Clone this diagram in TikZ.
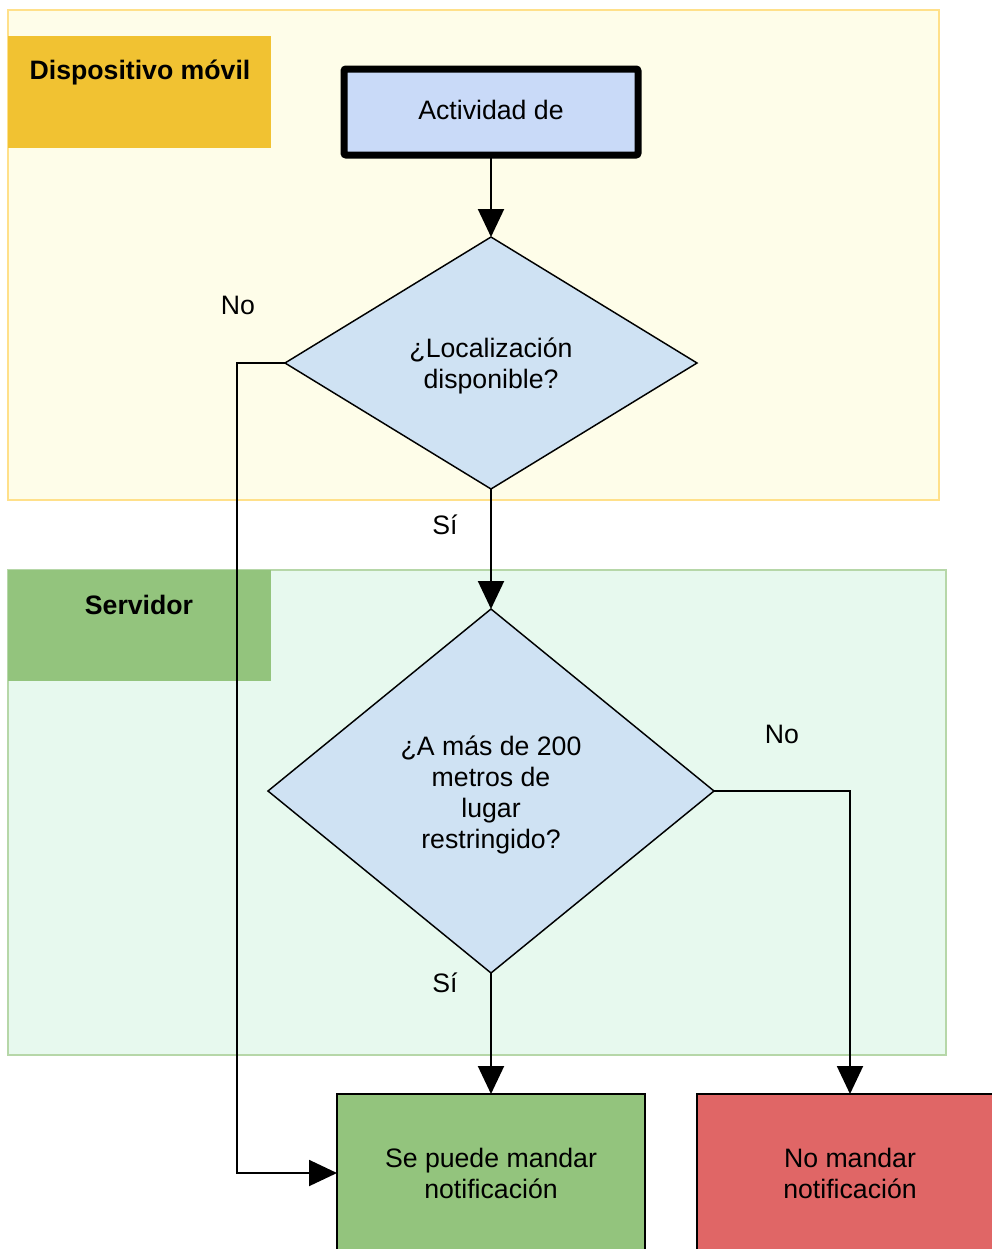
\documentclass[tikz,border=0pt]{standalone}
\usepackage{fontspec}
\setmainfont{Liberation Sans}
\usetikzlibrary{shapes.geometric,arrows.meta}
\definecolor{laneY}{HTML}{FEFDE9}
\definecolor{laneYb}{HTML}{FFE08A}
\definecolor{titleY}{HTML}{F1C232}
\definecolor{laneG}{HTML}{E7F9EE}
\definecolor{laneGb}{HTML}{B6D7A8}
\definecolor{titleG}{HTML}{93C47D}
\definecolor{dfill}{HTML}{CFE2F3}
\definecolor{tfill}{HTML}{C9DAF8}
\definecolor{rfill}{HTML}{E06666}
\tikzset{
  txt/.style={font=\fontsize{20}{23.5}\selectfont, align=center, inner sep=0pt},
  ttl/.style={font=\fontsize{20}{23.5}\selectfont\bfseries, inner sep=0pt},
  dec/.style={diamond, draw=black, line width=1.1pt, fill=dfill, inner sep=0pt, outer sep=0pt,
    font=\fontsize{20}{23.3}\selectfont, align=center},
  dtext/.style={font=\fontsize{20}{23.3}\selectfont, align=center, inner sep=0pt},
  endbox/.style={rectangle, draw=black, line width=1.3pt, inner sep=0pt, outer sep=0pt,
    font=\fontsize{20}{23.3}\selectfont, align=center},
  arr/.style={line width=1.5pt, -{Triangle[length=21pt,width=19.5pt]}},
  conn/.style={line width=1.5pt}
}
\begin{document}
\begin{tikzpicture}[x=0.75pt,y=-0.75pt]
\useasboundingbox (0,0) rectangle (992,1249);
\clip (0,0) rectangle (992,1249);
\fill[white] (0,0) rectangle (992,1249);
% lanes
\draw[fill=laneY, draw=laneYb, line width=1.5pt] (8,10) rectangle (939,500);
\fill[titleY] (8,36) rectangle (271,148);
\node[ttl] (lblmov) at (140,72) {Dispositivo móvil};
\draw[fill=laneG, draw=laneGb, line width=1.2pt] (8,570) rectangle (946,1055);
\fill[titleG] (8,570) rectangle (271,681);
\node[ttl] (lblsrv) at (139,605) {Servidor};
% nodes
\node[rectangle, draw=black, line width=5.25pt, fill=tfill, rounded corners=1.5pt,
  minimum width=220.5pt, minimum height=64.5pt, inner sep=0pt, outer sep=2.6pt,
  font=\fontsize{20}{23.5}\selectfont] (start) at (491,112) {\raisebox{3pt}{Actividad de}};
\node[dec, minimum width=309pt, minimum height=189pt] (d1) at (491,363) {};
\node[dtext] (d1t) at (491,366) {¿Localización\\disponible?};
\node[dec, minimum width=334.5pt, minimum height=273pt] (d2) at (491,791) {};
\node[dtext] (d2t) at (491,795) {¿A más de 200\\metros de\\lugar\\restringido?};
\node[endbox, fill=titleG, minimum width=231pt, minimum height=118.5pt] (ok) at (491,1173) {Se puede mandar\\notificación};
\node[endbox, fill=rfill, minimum width=229.5pt, minimum height=118.5pt] (nok) at (850,1173) {No mandar\\notificación};
% connectors
\draw[arr] (start.south) -- (d1.north);
\draw[arr] (d1.south) -- (d2.north);
\draw[arr] (d2.south) -- (ok.north);
\draw[arr] (d1.west) -- ++(-48,0) |- (ok.west);
\draw[arr] (d2.east) -| (nok.north);
% labels
\node[txt] (no1) at (238,305) {No};
\node[txt] (si1) at (445,525) {Sí};
\node[txt] (no2) at (782,734) {No};
\node[txt] (si2) at (445,983) {Sí};
\end{tikzpicture}
\end{document}
